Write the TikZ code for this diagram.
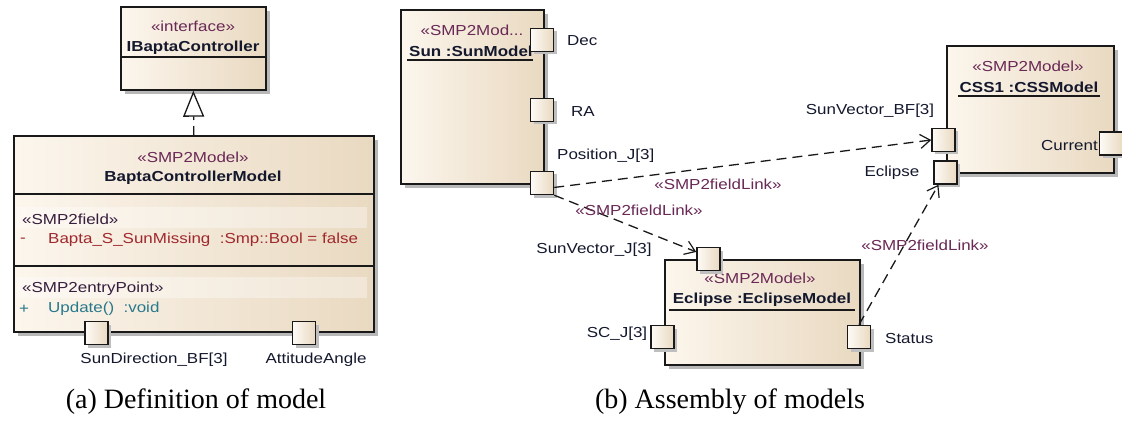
\documentclass[tikz,border=0pt]{standalone}
\usepackage{fontspec}
\setmainfont[FakeStretch=1.17]{Liberation Sans}
\newfontfamily\capfont{Liberation Serif}
\usetikzlibrary{arrows.meta,shadows,calc}
\definecolor{stereo}{RGB}{105,40,85}
\definecolor{namec}{RGB}{20,24,45}
\definecolor{fieldc}{RGB}{160,40,45}
\definecolor{opc}{RGB}{40,120,140}
\definecolor{boxl}{RGB}{252,246,237}
\definecolor{boxr}{RGB}{233,217,193}
\definecolor{edgec}{RGB}{25,25,25}
\newcommand{\fs}{\fontsize{14.5}{17}\selectfont}
\tikzset{
  umlbox/.style={draw=edgec, line width=1.7pt, left color=boxl, right color=boxr,
    drop shadow={shadow xshift=4pt, shadow yshift=-4pt, fill=black!28, opacity=1},
    anchor=north west, inner sep=0pt},
  port/.style={draw=edgec, line width=1.5pt, left color=boxl!50!white, right color=boxr,
    minimum width=23pt, minimum height=23pt, inner sep=0pt,
    drop shadow={shadow xshift=3pt, shadow yshift=-3pt, fill=black!25, opacity=1}},
  ster/.style={inner sep=0pt, font=\fs, text=stereo},
  nm/.style={inner sep=0pt, font=\fs\bfseries, text=namec},
  lbl/.style={inner sep=0pt, font=\fs, text=namec},
  captext/.style={inner sep=0pt, font=\capfont\fontsize{28}{30}\selectfont, text=black},
  link/.style={draw=edgec, line width=1.3pt, dash pattern=on 10pt off 6pt,
    -{Straight Barb[length=10pt,width=14pt,line width=1.2pt]}},
  divider/.style={draw=edgec, line width=1.5pt},
  band/.style={fill=white, opacity=0.35, draw=none}
}
\begin{document}
\begin{tikzpicture}[x=1pt,y=-1pt]
\useasboundingbox[fill=white] (0,0) rectangle (1122,425);

% ---------- (a) Definition of model ----------
\node[umlbox, minimum width=145pt, minimum height=83pt] (ibc) at (120,6) {};
\draw[divider] (ibc.west |- 0,57) -- (ibc.east |- 0,57);
\node[ster] (ibcs) at (193,26) {«interface»};
\node[nm] (ibcn) at (193,48) {IBaptaController};

\node[umlbox, minimum width=360pt, minimum height=196pt] (bcm) at (13,135) {};
\draw[divider] (bcm.west |- 0,194) -- (bcm.east |- 0,194);
\draw[divider] (bcm.west |- 0,266) -- (bcm.east |- 0,266);
\fill[band] (17,207) rectangle (367,228);
\fill[band] (17,277) rectangle (367,298);
\node[ster] (bcms) at (193,157) {«SMP2Model»};
\node[nm] (bcmn) at (193,178) {BaptaControllerModel};
\node[ster, anchor=west, text=namec!60!stereo] (fst) at (22,219) {«SMP2field»};
\node[lbl, anchor=west, text=fieldc] (fmin) at (20,240) {-};
\node[lbl, anchor=west, text=fieldc] (fld) at (48,240) {Bapta\_S\_SunMissing\ \ :Smp::Bool = false};
\node[ster, anchor=west, text=namec!60!stereo] (est) at (22,289) {«SMP2entryPoint»};
\node[lbl, anchor=west, text=opc] (oplus) at (19,309) {+};
\node[lbl, anchor=west, text=opc] (op) at (48,309) {Update()\ \ :void};

\draw[edgec, line width=1.3pt, dash pattern=on 9pt off 6pt,
  -{Triangle[open, length=26pt, width=21pt, line width=1.3pt, fill=white]}] (bcm.north) -- (ibc.south);

\node[port] (sdir) at (96.5,333) {};
\node[port] (att) at (304,333) {};
\node[lbl] (sdirl) at (154,360) {SunDirection\_BF[3]};
\node[lbl] (attl) at (316,360) {AttitudeAngle};

\node[captext] (capa) at (196,402) {(a) Definition of model};

% ---------- (b) Assembly of models ----------
\node[umlbox, minimum width=143pt, minimum height=174pt] (sun) at (400,9) {};
\node[ster] (suns) at (472,30) {«SMP2Mod...};
\node[nm, anchor=west] (sunn) at (409,51) {Sun :SunModel};
\draw[line width=1.5pt, edgec] (407,60) -- (533,60);

\node[umlbox, minimum width=167pt, minimum height=127pt] (css) at (946,45) {};
\node[ster] (csss) at (1028,66) {«SMP2Model»};
\node[nm] (cssn) at (1029,87) {CSS1 :CSSModel};
\draw[line width=1.5pt, edgec] (958,96) -- (1100,96);

\node[umlbox, minimum width=195pt, minimum height=105pt] (ecm) at (664,259) {};
\node[ster] (ecms) at (760,278) {«SMP2Model»};
\node[nm] (ecmn) at (762,300) {Eclipse :EclipseModel};
\draw[line width=1.5pt, edgec] (669,310) -- (855,310);

% ports
\node[port] (dec) at (542,40) {};
\node[port] (ra) at (542,110) {};
\node[port] (pos) at (542,183) {};
\node[port] (svbf) at (943.5,140) {};
\node[port] (ecl) at (945.5,172.5) {};
\node[port] (cur) at (1111,143.5) {};
\node[port] (svj) at (708.5,259) {};
\node[port] (scj) at (662.5,337) {};
\node[port] (stat) at (859,337) {};

% port labels
\node[lbl, anchor=west] (decl) at (567,41) {Dec};
\node[lbl, anchor=west] (ral) at (571,112) {RA};
\node[lbl, anchor=west] (posl) at (557,156) {Position\_J[3]};
\node[lbl] (svbfl) at (870,111) {SunVector\_BF[3]};
\node[lbl] (ecll) at (892,173) {Eclipse};
\node[lbl, anchor=east] (curl) at (1098,146) {Current};
\node[lbl] (svjl) at (594,250) {SunVector\_J[3]};
\node[lbl] (scjl) at (617,334) {SC\_J[3]};
\node[lbl, anchor=west] (statl) at (885,339) {Status};

% links
\draw[link] (pos.-20) -- (svbf.west);
\draw[link] (pos.-45) -- (svj.150);
\draw[link] (stat.north) -- (ecl.-120);
\node[ster] (l1) at (718,184) {«SMP2fieldLink»};
\node[ster] (l2) at (639,210) {«SMP2fieldLink»};
\node[ster] (l3) at (925,245) {«SMP2fieldLink»};

\node[captext] (capb) at (730,402) {(b) Assembly of models};
\end{tikzpicture}
\end{document}
